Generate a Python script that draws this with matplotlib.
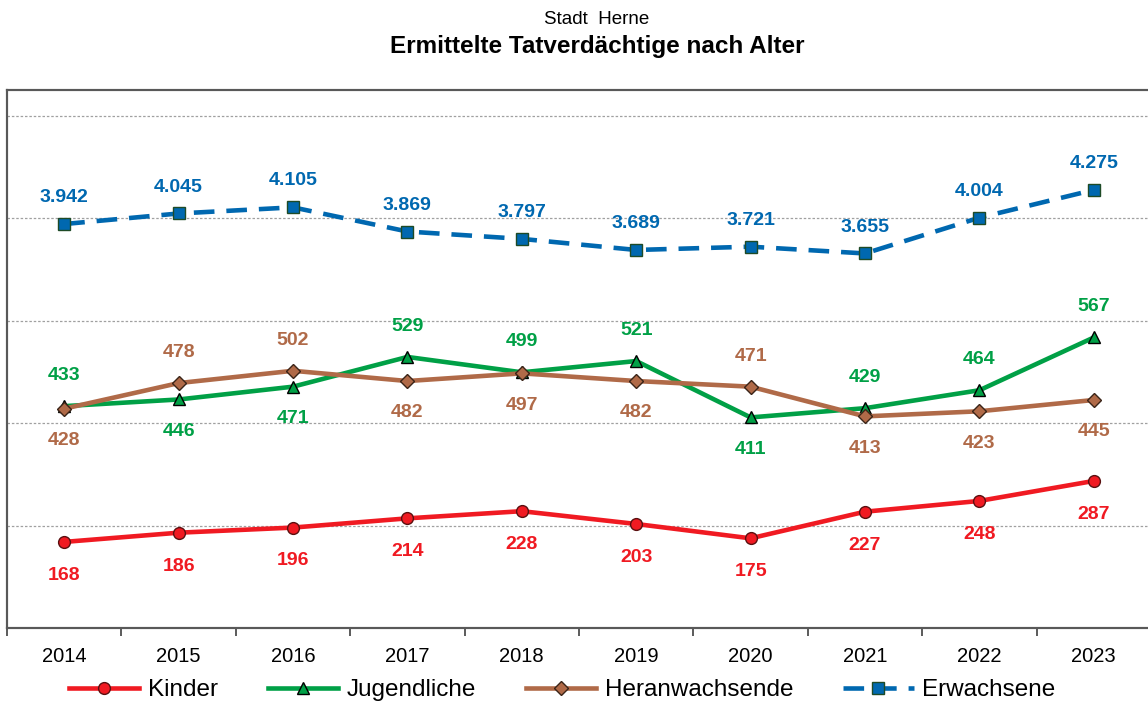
import matplotlib
matplotlib.use("Agg")
import matplotlib.pyplot as plt
from matplotlib.ticker import FixedLocator, NullFormatter

plt.rcParams['font.family'] = ['Liberation Sans', 'DejaVu Sans']

years = ["2014", "2015", "2016", "2017", "2018", "2019", "2020", "2021", "2022", "2023"]
kinder = [168, 186, 196, 214, 228, 203, 175, 227, 248, 287]
jugendliche = [433, 446, 471, 529, 499, 521, 411, 429, 464, 567]
heranwachsende = [428, 478, 502, 482, 497, 482, 471, 413, 423, 445]
erwachsene = [3942, 4045, 4105, 3869, 3797, 3689, 3721, 3655, 4004, 4275]

# label side per year: +1 above the point, -1 below
jug_side = [1, -1, -1, 1, 1, 1, -1, 1, 1, 1]
her_side = [-1, 1, 1, -1, -1, -1, 1, -1, -1, -1]

RED = "#f01a22"
GREEN = "#00a046"
BROWN = "#b06a48"
BLUE = "#0068b0"

W, H = 1148, 706
fig = plt.figure(figsize=(W / 100, H / 100), dpi=100)
left, right, top, bottom = 7, 1151, 90, 628
ax = fig.add_axes([left / W, 1 - bottom / H, (right - left) / W, (bottom - top) / H])
ax2 = ax.twinx()

x = list(range(len(years)))

def fmt(v):
    return f"{v:,}".replace(",", ".")

ax.plot(x, kinder, color=RED, lw=3.3, marker="o", ms=8.5, mfc=RED, mec="#5a1010", mew=1.0,
        label="Kinder", zorder=3)
ax.plot(x, jugendliche, color=GREEN, lw=3.3, marker="^", ms=9, mfc=GREEN, mec="black", mew=1.0,
        label="Jugendliche", zorder=3)
ax.plot(x, heranwachsende, color=BROWN, lw=3.3, marker="D", ms=7.5, mfc=BROWN, mec="#3a2418", mew=1.0,
        label="Heranwachsende", zorder=3)
ax2.plot(x, erwachsene, color=BLUE, lw=3.3, ls=(0, (4.5, 2.6)), marker="s", ms=8.5, mfc=BLUE,
         mec="#1e4a26", mew=1.0, label="Erwachsene", zorder=3)

lab_kw = dict(ha="center", va="center", fontsize=14, fontweight="bold", textcoords="offset points")
for xi, v in zip(x, kinder):
    ax.annotate(str(v), (xi, v), xytext=(0, -24), color=RED, **lab_kw)
for xi, v, s in zip(x, jugendliche, jug_side):
    ax.annotate(str(v), (xi, v), xytext=(0, 22 if s > 0 else -23), color=GREEN, **lab_kw)
for xi, v, s in zip(x, heranwachsende, her_side):
    ax.annotate(str(v), (xi, v), xytext=(0, 22 if s > 0 else -23), color=BROWN, **lab_kw)
for xi, v in zip(x, erwachsene):
    ax2.annotate(fmt(v), (xi, v), xytext=(0, 19), color=BLUE, **lab_kw)

ax.set_xlim(-0.5, len(years) - 0.5)
ax.set_ylim(0, 1050)
ax2.set_ylim(0, 5250)

ax.set_yticks([200, 400, 600, 800, 1000])
ax.yaxis.grid(True, ls=(0, (2, 1.5)), color="#a0a0a0", lw=0.9)
ax.set_axisbelow(True)
ax.tick_params(axis="y", left=False, labelleft=False)
ax2.set_yticks([])
ax2.tick_params(axis="y", right=False, labelright=False)

ax.set_xticks(x)
ax.set_xticklabels(years, fontsize=14.5)
ax.tick_params(axis="x", which="major", length=0, pad=14)
ax.xaxis.set_minor_locator(FixedLocator([i + 0.5 for i in range(-1, len(years))]))
ax.xaxis.set_minor_formatter(NullFormatter())
ax.tick_params(axis="x", which="minor", length=6, width=1.2, color="#404040", direction="out")

for a in (ax, ax2):
    for sp in a.spines.values():
        sp.set_color("#595959")
        sp.set_linewidth(1.5)

fig.text(597 / W, 1 - 20 / H, "Stadt  Herne", ha="center", va="center", fontsize=13.5)
fig.text(597 / W, 1 - 47 / H, "Ermittelte Tatverdächtige nach Alter", ha="center", va="center",
         fontsize=17.5, fontweight="bold")

h1, l1 = ax.get_legend_handles_labels()
h2, l2 = ax2.get_legend_handles_labels()
fig.legend(h1 + h2, l1 + l2, loc="center", bbox_to_anchor=(562 / W, 1 - 690 / H), ncol=4,
           frameon=False, fontsize=17.5, handlelength=2.9, columnspacing=2.05, handletextpad=0.35,
           borderaxespad=0)

fig.savefig("out.png", dpi=100)
